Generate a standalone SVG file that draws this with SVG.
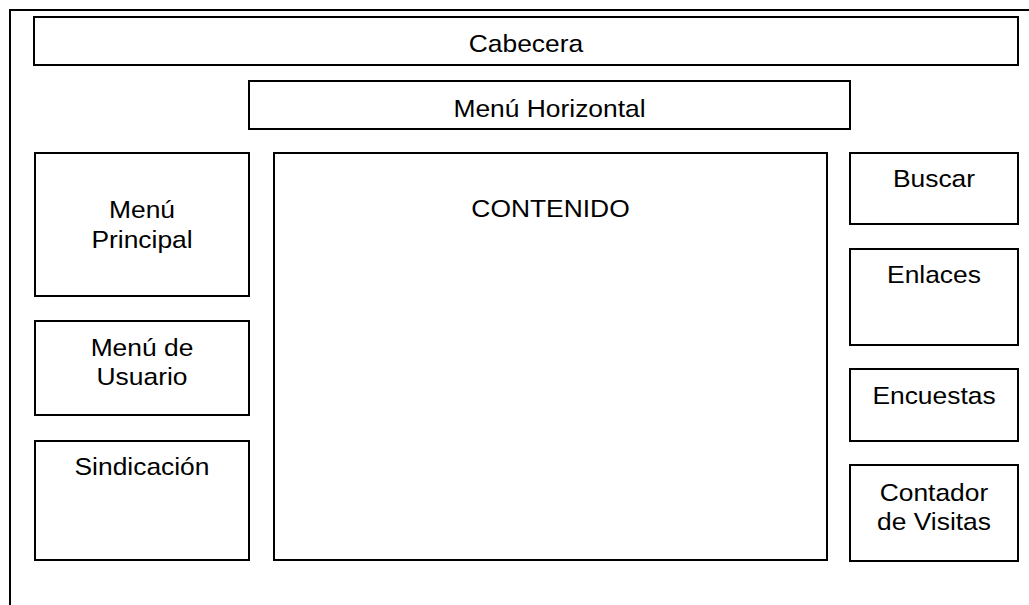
<svg xmlns="http://www.w3.org/2000/svg" width="1029" height="605" viewBox="0 0 1029 605">
<style>
rect.box { fill: #ffffff; stroke: #000000; stroke-width: 2; }
.frame { fill: none; stroke: #000000; stroke-width: 2; }
text { font-family: "Liberation Sans", Arial, sans-serif; font-size: 24px; fill: #000000; text-anchor: middle; transform-box: fill-box; transform-origin: center; transform: scaleX(1.1); }
</style>
<rect x="0" y="0" width="1029" height="605" fill="#ffffff"/>
<path class="frame" d="M10,605 V10 H1029"/>
<g id="connectors"></g>
<g id="cabecera">
<rect class="box" x="34" y="17" width="984" height="48"/>
<text x="526" y="52">Cabecera</text>
</g>
<g id="menu-horizontal">
<rect class="box" x="249" y="81" width="601" height="48"/>
<text x="549.5" y="117">Menú Horizontal</text>
</g>
<g id="menu-principal">
<rect class="box" x="35" y="153" width="214" height="143"/>
<text x="142" y="218">Menú</text>
<text x="142" y="248">Principal</text>
</g>
<g id="menu-usuario">
<rect class="box" x="35" y="321" width="214" height="94"/>
<text x="142" y="356.5">Menú de</text>
<text x="142" y="385">Usuario</text>
</g>
<g id="sindicacion">
<rect class="box" x="35" y="441" width="214" height="119"/>
<text x="142" y="475">Sindicación</text>
</g>
<g id="contenido">
<rect class="box" x="274" y="153" width="553" height="407"/>
<text x="550.5" y="217">CONTENIDO</text>
</g>
<g id="buscar">
<rect class="box" x="850" y="153" width="168" height="71"/>
<text x="934" y="187">Buscar</text>
</g>
<g id="enlaces">
<rect class="box" x="850" y="249" width="168" height="96"/>
<text x="934" y="283">Enlaces</text>
</g>
<g id="encuestas">
<rect class="box" x="850" y="369" width="168" height="72"/>
<text x="934" y="404">Encuestas</text>
</g>
<g id="contador">
<rect class="box" x="850" y="465" width="168" height="96"/>
<text x="934" y="501.5">Contador</text>
<text x="934" y="530">de Visitas</text>
</g>
</svg>
